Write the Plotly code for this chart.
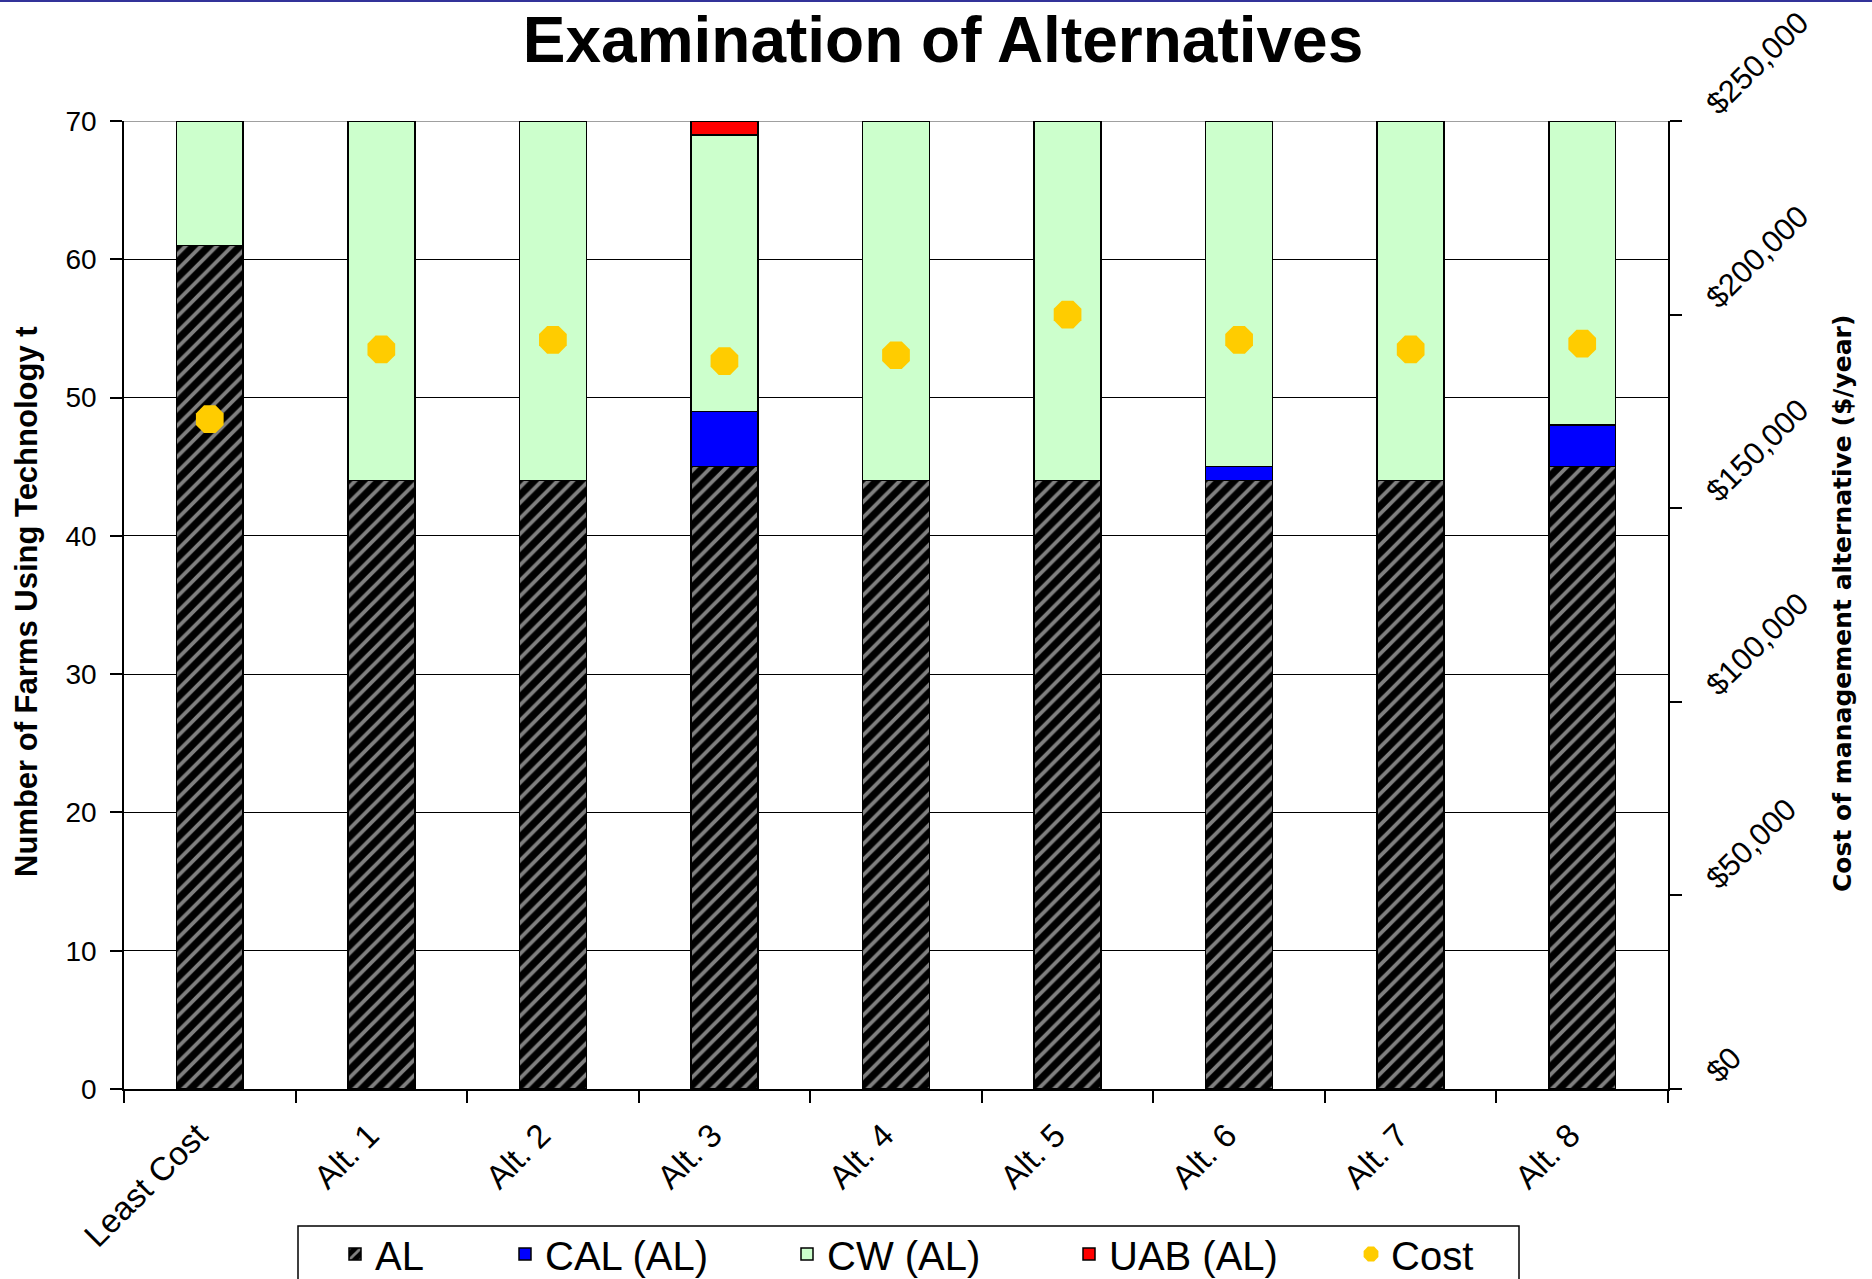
import plotly.graph_objects as go

# Alternatives compared
categories = ["Least Cost", "Alt. 1", "Alt. 2", "Alt. 3", "Alt. 4",
              "Alt. 5", "Alt. 6", "Alt. 7", "Alt. 8"]

# Number of farms using each technology
al = [61, 44, 44, 45, 44, 44, 44, 44, 45]
cal_al = [0, 0, 0, 4, 0, 0, 1, 0, 3]
cw_al = [9, 26, 26, 20, 26, 26, 25, 26, 22]
uab_al = [0, 0, 0, 1, 0, 0, 0, 0, 0]

# Annual cost of each management alternative ($/year)
cost = [173000, 191000, 193500, 188000, 189500, 200000, 193500, 191000, 192500]

left_ticks = [0, 10, 20, 30, 40, 50, 60, 70]
right_ticks = [0, 50000, 100000, 150000, 200000, 250000]

FONT = "Liberation Sans, Arial, sans-serif"
WIDE_FONT = "DejaVu Sans, Verdana, sans-serif"
BORDER = dict(color="black", width=1.5)

fig = go.Figure()

fig.add_trace(go.Bar(
    name="AL", x=categories, y=al,
    marker=dict(color="black", line=BORDER,
                pattern=dict(shape="/", fgcolor="white", bgcolor="black",
                             size=11, solidity=0.35)),
    legendwidth=125,
))
fig.add_trace(go.Bar(
    name="CAL (AL)", x=categories, y=cal_al,
    marker=dict(color="#0000FF", line=BORDER), legendwidth=237,
))
fig.add_trace(go.Bar(
    name="CW (AL)", x=categories, y=cw_al,
    marker=dict(color="#CCFFCC", line=BORDER), legendwidth=237,
))
fig.add_trace(go.Bar(
    name="UAB (AL)", x=categories, y=uab_al,
    marker=dict(color="#FF0000", line=BORDER), legendwidth=237,
))
fig.add_trace(go.Scatter(
    name="Cost", x=categories, y=cost, yaxis="y2", mode="markers",
    marker=dict(symbol="octagon", size=30, color="#FFCC00", line=dict(width=0)),
    legendwidth=237,
))

# Plot-area pixel geometry used for paper-coordinate placement
PL, PR, PT, PB = 124, 1668, 121, 1089
PW, PH = PR - PL, PB - PT


def px_x(px):
    return (px - PL) / PW


def px_y(py):
    return (PB - py) / PH


fig.update_layout(
    width=1872, height=1279,
    margin=dict(l=PL, r=1872 - PR, t=PT, b=1279 - PB, autoexpand=False),
    paper_bgcolor="white", plot_bgcolor="white",
    barmode="stack", bargap=0.61,
    font=dict(family=FONT, color="black"),
    title=dict(text="<b>Examination of Alternatives</b>",
               x=943 / 1872, xanchor="center", y=1 - 40 / 1279, yanchor="middle",
               font=dict(size=64, family=FONT, color="black")),
    xaxis=dict(type="category", range=[-0.5, len(categories) - 0.5],
               showline=True, linecolor="black", linewidth=1.5,
               ticks="outside", tickson="boundaries", ticklen=12,
               tickcolor="black", tickwidth=1.5, tickangle=-45,
               tickfont=dict(size=33, family=FONT), showgrid=False,
               ticklabelstandoff=12, ticklabelshift=-12),
    yaxis=dict(range=[0, 70], tickvals=left_ticks, showline=True,
               linecolor="black", linewidth=1.5, ticks="outside", ticklen=12,
               tickcolor="black", tickwidth=1.5, showgrid=True,
               gridcolor="black", gridwidth=1.2, zeroline=False,
               tickfont=dict(size=28, family=FONT), ticklabelstandoff=8),
    yaxis2=dict(overlaying="y", side="right", anchor="x", range=[0, 250000],
                tickvals=right_ticks, tickformat="$,.0f", showline=True,
                linecolor="black", linewidth=1.5, ticks="outside", ticklen=12,
                tickcolor="black", tickwidth=1.5, showgrid=False,
                zeroline=False, tickangle=-45, ticklabelstandoff=20,
                ticklabelshift=-11, ticklabeloverflow="allow",
                tickfont=dict(size=31, family=FONT)),
    legend=dict(orientation="h", x=px_x(335), xanchor="left",
                y=px_y(1254), yanchor="middle", borderwidth=0,
                bgcolor="rgba(0,0,0,0)", font=dict(size=40, family=FONT),
                traceorder="normal"),
    showlegend=True,
    annotations=[
        dict(text="<b>Number of Farms Using Technology t</b>", textangle=-90,
             xref="paper", yref="paper", x=px_x(26), y=px_y(602),
             xanchor="center", yanchor="middle", showarrow=False,
             font=dict(size=31, family=FONT)),
        dict(text="<b>Cost of management alternative ($/year)</b>", textangle=-90,
             xref="paper", yref="paper", x=px_x(1842), y=px_y(604),
             xanchor="center", yanchor="middle", showarrow=False,
             font=dict(size=25, family=WIDE_FONT)),
    ],
    shapes=[
        # grey frame line along the top of the plot area
        dict(type="line", xref="paper", yref="y", x0=0, x1=1, y0=70, y1=70,
             line=dict(color="#A0A0A0", width=2), layer="between"),
        # legend box
        dict(type="rect", xref="paper", yref="paper",
             x0=px_x(298), x1=px_x(1519), y0=px_y(1226), y1=px_y(1295),
             line=dict(color="black", width=1.5), fillcolor="rgba(0,0,0,0)"),
        # slide rule along the top edge
        dict(type="line", xref="paper", yref="paper",
             x0=px_x(0), x1=px_x(1872), y0=px_y(1), y1=px_y(1),
             line=dict(color="#333399", width=2)),
    ],
)

fig.write_html("out.html", config={"displayModeBar": False})
